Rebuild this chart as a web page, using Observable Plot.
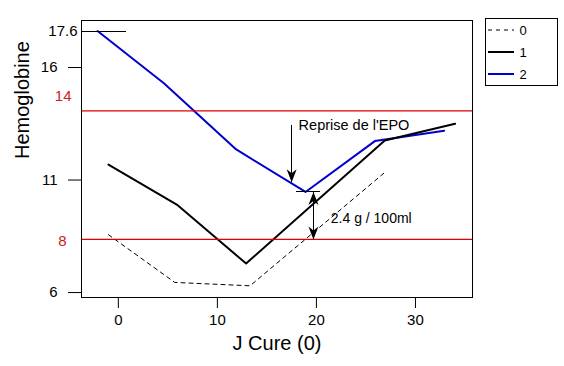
<!DOCTYPE html>
<html><head><meta charset="utf-8">
<script src="https://cdn.jsdelivr.net/npm/d3@7"></script>
<script src="https://cdn.jsdelivr.net/npm/@observablehq/plot@0.6"></script>
<style>body{margin:0;background:#fff;} #chart svg{display:block;}</style>
</head><body><div id="chart"></div>
<script>
// ---- data ----
const series = ["0", "1", "2"];
const days0 = [-1.0, 5.7, 13.3, 26.8];
const hb0 = [8.57, 6.45, 6.30, 11.30];
const days1 = [-1.0, 5.9, 12.9, 26.9, 34.0];
const hb1 = [11.69, 9.91, 7.29, 12.76, 13.50];
const days2 = [-2.1, 4.6, 11.9, 18.9, 25.9, 32.9];
const hb2 = [17.62, 15.30, 12.36, 10.47, 12.73, 13.19];
const xTicks = [0, 10, 20, 30];
const yTicks = [6, 11, 16];
const redLines = [14.07, 8.36];
const redLabels = [{y: 14.73, text: "14"}, {y: 8.27, text: "8"}];
const topLevel = [{y: 17.6, x2: 0.85}];
const epoArrow = [{x: 17.5, y1: 13.43, y2: 10.9}];
const epoLabel = [{x: 18.2, y: 13.41, text: "Reprise de l'EPO"}];
const diffArrow = [{x: 19.7, y1: 10.47, y2: 8.36}];
const diffMark = [{y: 10.47, x1: 17.95, x2: 20.45}];
const diffLabel = [{x: 21.45, y: 9.27, text: "2.4 g / 100ml"}];
const xTitle = "J Cure (0)";
const yTitle = "Hemoglobine";

// ---- layout / styles ----
const font = "'Liberation Sans', Arial, sans-serif";
const xDomain = [-3.72, 35.76];
const yDomain = [5.78, 18.09];
const red = "#e00000";
const styles = [
  {stroke: "black", strokeWidth: 1, dash: "4,4"},
  {stroke: "black", strokeWidth: 2, dash: null},
  {stroke: "#0000cc", strokeWidth: 2, dash: null}
];
const rows = (xs, ys) => xs.map((x, i) => ({x, y: ys[i]}));
const headDown = {draw(c) { c.moveTo(0, 0); c.lineTo(-5, -13); c.lineTo(0, -9); c.lineTo(5, -13); c.closePath(); }};
const headUp = {draw(c) { c.moveTo(0, 0); c.lineTo(-5, 13); c.lineTo(0, 9); c.lineTo(5, 13); c.closePath(); }};
const crisp = {shapeRendering: "crispEdges"};

const plot = Plot.plot({
  width: 564, height: 366,
  marginLeft: 81, marginRight: 92, marginTop: 20, marginBottom: 69,
  style: {fontFamily: font, fontSize: "15px", background: "white", color: "black", overflow: "visible"},
  x: {domain: xDomain},
  y: {domain: yDomain},
  marks: [
    Plot.line(rows(days0, hb0), {x: "x", y: "y", stroke: styles[0].stroke, strokeWidth: styles[0].strokeWidth, strokeDasharray: styles[0].dash}),
    Plot.line(rows(days2, hb2), {x: "x", y: "y", stroke: styles[2].stroke, strokeWidth: styles[2].strokeWidth}),
    Plot.line(rows(days1, hb1), {x: "x", y: "y", stroke: styles[1].stroke, strokeWidth: styles[1].strokeWidth}),
    Plot.ruleY(redLines.slice(0, 1), {stroke: red, strokeWidth: 1.2}),
    Plot.ruleY(redLines.slice(1), {stroke: red, strokeWidth: 1.2}),
    Plot.ruleY(topLevel, {y: "y", x1: () => xDomain[0], x2: "x2", stroke: "black", strokeWidth: 1, ...crisp}),
    Plot.ruleX(epoArrow, {x: "x", y1: "y1", y2: "y2", stroke: "black", strokeWidth: 1, ...crisp}),
    Plot.dot(epoArrow, {x: "x", y: "y2", symbol: headDown, fill: "black", stroke: "none"}),
    Plot.ruleY(diffMark, {y: "y", x1: "x1", x2: "x2", stroke: "black", strokeWidth: 1, ...crisp}),
    Plot.ruleX(diffArrow, {x: "x", y1: "y1", y2: "y2", stroke: "black", strokeWidth: 1, ...crisp}),
    Plot.dot(diffArrow, {x: "x", y: "y1", symbol: headUp, fill: "black", stroke: "none"}),
    Plot.dot(diffArrow, {x: "x", y: "y2", symbol: headDown, fill: "black", stroke: "none"}),
    Plot.text(epoLabel, {x: "x", y: "y", text: "text", textAnchor: "start", fontSize: 14.5}),
    Plot.text(diffLabel, {x: "x", y: "y", text: "text", textAnchor: "start", fontSize: 14}),
    Plot.axisX({ticks: xTicks, tickSize: 11, tickPadding: 6, label: null, fontSize: 15}),
    Plot.axisY({ticks: yTicks, tickSize: 13, tickPadding: 11, label: null, fontSize: 15}),
    Plot.text(topLevel, {y: "y", text: d => String(d.y), frameAnchor: "left", textAnchor: "end", dx: -4, fontSize: 15}),
    Plot.text(redLabels.slice(0, 1), {y: "y", text: "text", frameAnchor: "left", textAnchor: "end", dx: -10, fill: "#cc2020", fontSize: 15}),
    Plot.text(redLabels.slice(1), {y: "y", text: "text", frameAnchor: "left", textAnchor: "end", dx: -15, fill: "#cc2020", fontSize: 15}),
    Plot.frame({stroke: "black", strokeWidth: 1, ...crisp}),
    Plot.text([xTitle], {text: d => d, frameAnchor: "bottom", dy: 52.6, fontSize: 20}),
    Plot.text([yTitle], {text: d => d, frameAnchor: "left", rotate: -90, dx: -59, fontSize: 20})
  ]
});

// legend
const svg = d3.select(plot);
const lg = svg.append("g").attr("font-family", font).attr("font-size", 13);
lg.append("rect").attr("x", 485.5).attr("y", 18.5).attr("width", 72).attr("height", 67)
  .attr("fill", "white").attr("stroke", "black");
series.forEach((s, i) => {
  const yy = 30 + i * 22;
  lg.append("line").attr("x1", 488).attr("x2", 514).attr("y1", yy).attr("y2", yy)
    .attr("stroke", styles[i].stroke).attr("stroke-width", styles[i].strokeWidth)
    .attr("stroke-dasharray", styles[i].dash);
  lg.append("text").attr("x", 523).attr("y", yy).attr("dy", "0.36em").text(s);
});

document.getElementById("chart").appendChild(plot);
</script>
</body></html>
